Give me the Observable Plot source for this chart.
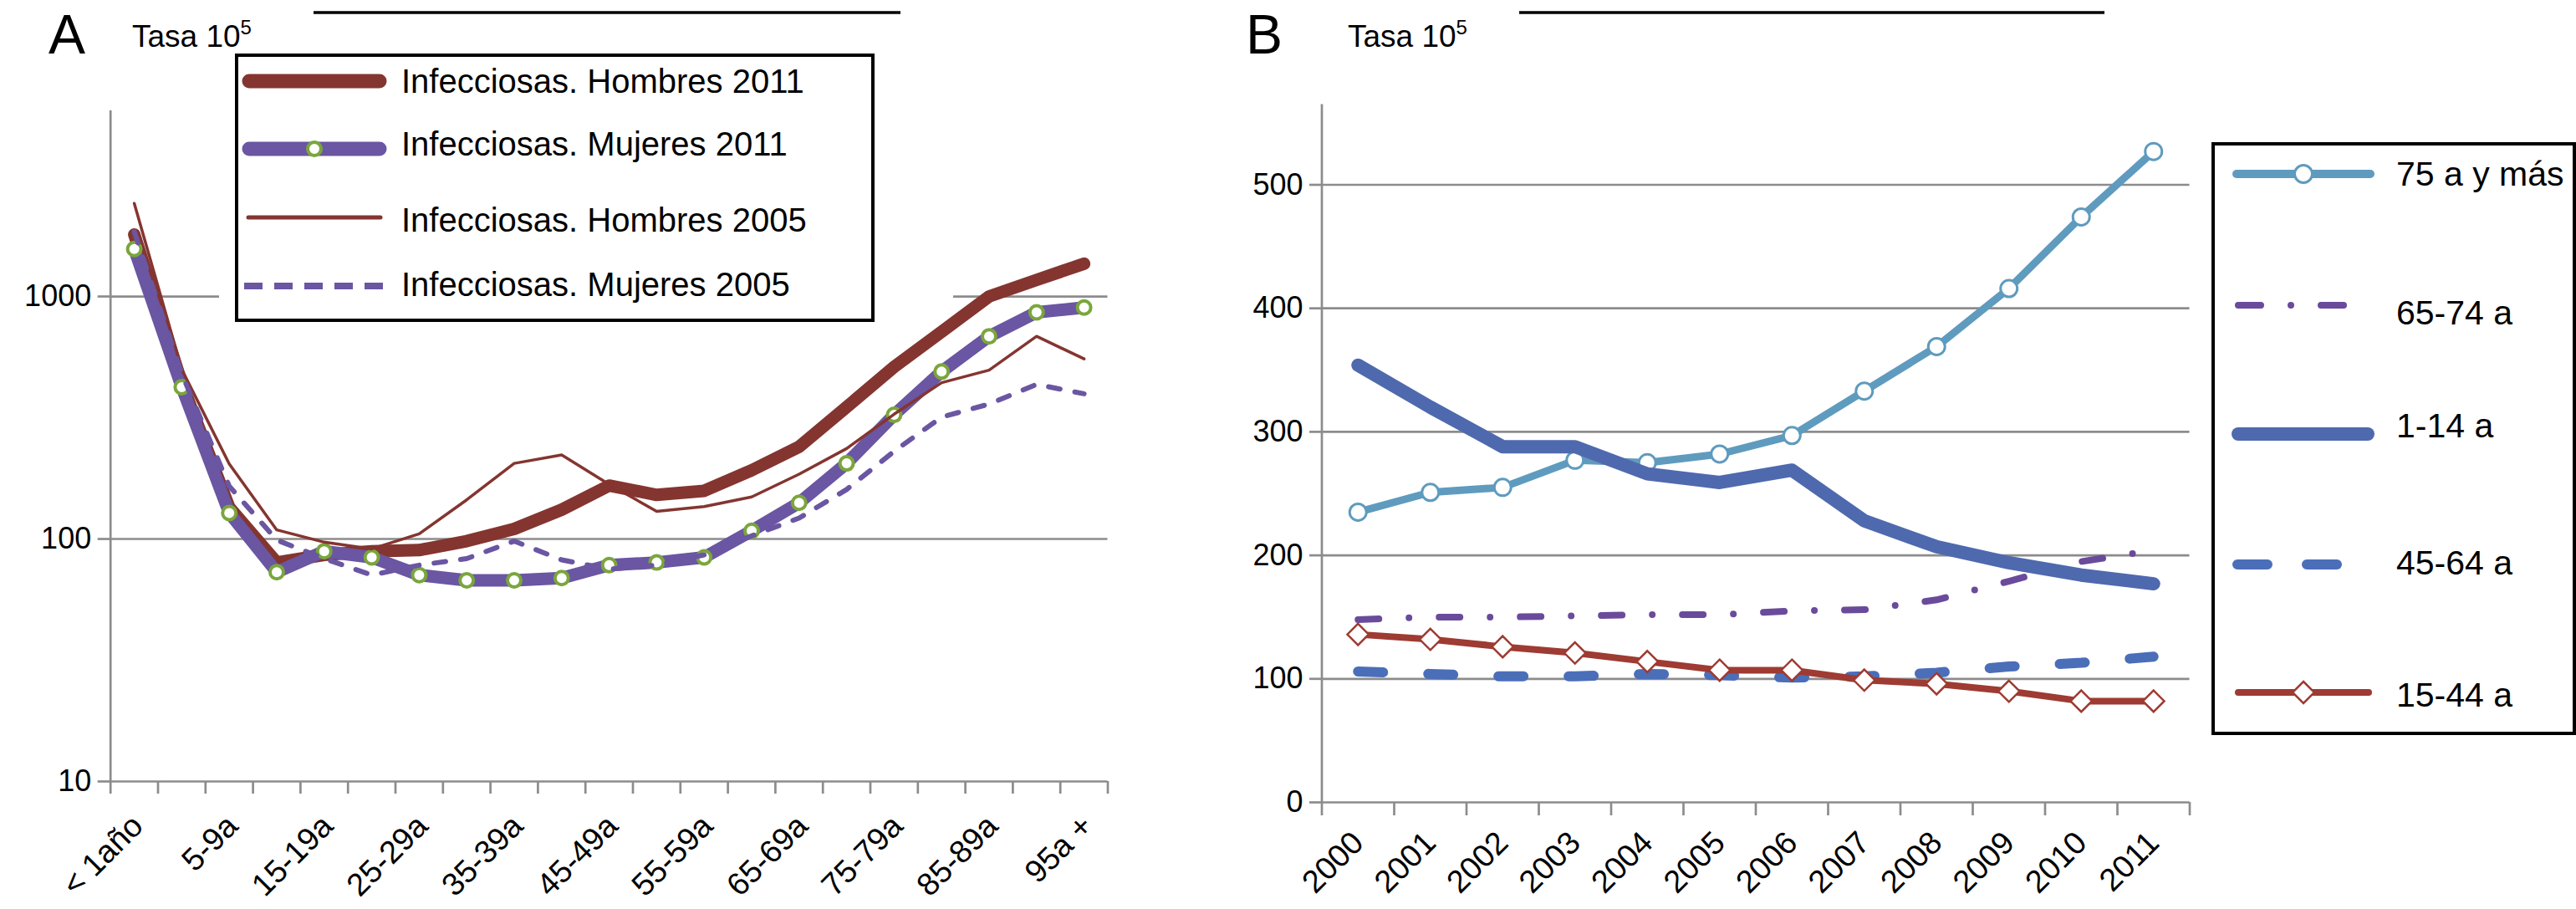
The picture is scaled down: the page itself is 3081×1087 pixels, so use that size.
<!DOCTYPE html>
<html><head><meta charset="utf-8">
<script src="https://cdn.jsdelivr.net/npm/d3@7"></script>
<script src="https://cdn.jsdelivr.net/npm/@observablehq/plot@0.6"></script>
<style>
html,body{margin:0;padding:0;background:#fff;}
#root{position:relative;width:3081px;height:1087px;overflow:hidden;background:#fff;}
.panel{position:absolute;top:0;}
#overlay{position:absolute;left:0;top:0;}
</style></head><body><div id="root"></div>
<script>
// ---------- Panel A data ----------
const ageGroups = ["< 1año","1-4a","5-9a","10-14a","15-19a","20-24a","25-29a","30-34a","35-39a","40-44a","45-49a","50-54a","55-59a","60-64a","65-69a","70-74a","75-79a","80-84a","85-89a","90-94a","95a +"];
const hombres2011 = [1800, 440, 135, 80, 86, 89, 90, 98, 110, 132, 166, 152, 158, 192, 240, 350, 512, 715, 1000, 1170, 1365];
const mujeres2011 = [1570, 423, 128, 73, 89, 84, 71, 67.5, 67.5, 69, 78, 80, 84, 108, 141, 205, 325, 490, 685, 860, 900];
const hombres2005 = [2420, 500, 204, 109, 97, 91, 105, 145, 205, 222, 168, 130, 136, 149, 185, 236, 327, 441, 497, 685, 553];
const mujeres2005 = [1850, 480, 165, 99, 83, 71, 78, 83, 98, 82, 75, 78, 86, 103, 122, 160, 230, 318, 360, 434, 397];
const seriesA = ["Infecciosas. Hombres 2011","Infecciosas. Mujeres 2011","Infecciosas. Hombres 2005","Infecciosas. Mujeres 2005"];
const yTicksA = [10, 100, 1000];
const yMaxA = 5830;

// ---------- Panel B data ----------
const years = ["2000","2001","2002","2003","2004","2005","2006","2007","2008","2009","2010","2011"];
const g75mas = [235, 251, 255, 277, 275, 282, 297, 333, 369, 416, 474, 527];
const g65_74 = [148, 150, 150, 151, 152, 152, 155, 156, 164, 179, 195, 204];
const g1_14  = [354, 320, 288, 288, 266, 259, 269, 228, 207, 194, 184, 177];
const g45_64 = [106, 104, 102, 102, 104, 103, 101, 102, 105, 110, 113, 118];
const g15_44 = [136, 132, 126, 121, 114, 107, 107, 99, 96, 90, 82, 82];
const seriesB = ["75 a y más","65-74 a","1-14 a","45-64 a","15-44 a"];
const yTicksB = [0, 100, 200, 300, 400, 500];
const yMaxB = 565;

// ---------- styles ----------
const FONT = '"Liberation Sans", Arial, Helvetica, sans-serif';
const GRAY = "#8c8c8c";
const RED = "#843530", PURPLE = "#6a56a2", GREEN = "#7aa63c";
const C75 = "#5f9bbe", C65 = "#6a4b9b", C1 = "#4f69ae", C45 = "#4b6eb9", C15 = "#9e3b32";

const tableA = ageGroups.map((g, i) => ({i, g, h11: hombres2011[i], m11: mujeres2011[i], h05: hombres2005[i], m05: mujeres2005[i]}));
const tableB = years.map((y, i) => ({i, y, a: g75mas[i], b: g65_74[i], c: g1_14[i], d: g45_64[i], e: g15_44[i]}));
const xc = d => d.i + 0.5;

const root = document.getElementById("root");

const plotA = Plot.plot({
  width: 1400, height: 1087,
  marginLeft: 131.7, marginRight: 75.5, marginTop: 132, marginBottom: 153,
  style: {fontFamily: FONT, fontSize: "38px", color: "#000", background: "transparent", overflow: "visible", maxWidth: "none"},
  x: {type: "linear", domain: [0, ageGroups.length]},
  y: {type: "log", domain: [10, yMaxA]},
  marks: [
    Plot.gridY([100, 1000], {stroke: GRAY, strokeOpacity: 1, strokeWidth: 2.7}),
    Plot.ruleY([10], {stroke: GRAY, strokeWidth: 2.7}),
    Plot.ruleX([0], {stroke: GRAY, strokeWidth: 2.7}),
    Plot.axisY(yTicksA, {tickSize: 15, tickPadding: 8, fontSize: 36, tickFormat: d => String(d), stroke: GRAY, strokeWidth: 2.7, fill: "#000", label: null}),
    Plot.axisX(d3.range(0, ageGroups.length + 1), {tickSize: 15, tickFormat: () => "", stroke: GRAY, strokeWidth: 2.7, label: null}),
    Plot.axisX(ageGroups.map((g, i) => i + 0.5).filter((v, i) => i % 2 === 0), {tickSize: 0, tickRotate: -45, tickPadding: 47, dx: 4, tickFormat: v => ageGroups[Math.floor(v)], fill: "#000", label: null}),
    Plot.line(tableA, {x: xc, y: "h11", stroke: RED, strokeWidth: 15}),
    Plot.line(tableA, {x: xc, y: "m11", stroke: PURPLE, strokeWidth: 15}),
    Plot.dot(tableA, {x: xc, y: "m11", r: 8, fill: "white", stroke: GREEN, strokeWidth: 4}),
    Plot.line(tableA, {x: xc, y: "h05", stroke: RED, strokeWidth: 3.5}),
    Plot.line(tableA, {x: xc, y: "m05", stroke: PURPLE, strokeWidth: 6, strokeDasharray: "14,18"})
  ]
});
const divA = document.createElement("div"); divA.className = "panel"; divA.style.left = "0px";
divA.appendChild(plotA); root.appendChild(divA);

const plotB = Plot.plot({
  width: 1681, height: 1087,
  marginLeft: 180.5, marginRight: 462.5, marginTop: 124.5, marginBottom: 128,
  style: {fontFamily: FONT, fontSize: "38px", color: "#000", background: "transparent", overflow: "visible", maxWidth: "none"},
  x: {type: "linear", domain: [0, years.length]},
  y: {type: "linear", domain: [0, yMaxB]},
  marks: [
    Plot.gridY(yTicksB.filter(v => v > 0), {stroke: GRAY, strokeOpacity: 1, strokeWidth: 2.7}),
    Plot.ruleY([0], {stroke: GRAY, strokeWidth: 2.7}),
    Plot.ruleX([0], {stroke: GRAY, strokeWidth: 2.7}),
    Plot.axisY(yTicksB, {tickSize: 14.5, tickPadding: 8, fontSize: 36, tickFormat: d => String(d), stroke: GRAY, strokeWidth: 2.7, fill: "#000", label: null}),
    Plot.axisX(d3.range(0, years.length + 1), {tickSize: 16, tickFormat: () => "", stroke: GRAY, strokeWidth: 2.7, label: null}),
    Plot.axisX(years.map((y, i) => i + 0.5), {tickSize: 0, tickRotate: -45, tickPadding: 42, tickFormat: v => years[Math.floor(v)], fill: "#000", label: null}),
    Plot.line(tableB, {x: xc, y: "a", stroke: C75, strokeWidth: 9}),
    Plot.dot(tableB, {x: xc, y: "a", r: 10, fill: "white", stroke: C75, strokeWidth: 3}),
    Plot.line(tableB, {x: xc, y: "b", stroke: C65, strokeWidth: 8, strokeDasharray: "25,36,0,36"}),
    Plot.line(tableB, {x: xc, y: "c", stroke: C1, strokeWidth: 16}),
    Plot.line(tableB, {x: xc, y: "d", stroke: C45, strokeWidth: 12, strokeDasharray: "30,54"}),
    Plot.line(tableB, {x: xc, y: "e", stroke: C15, strokeWidth: 8}),
    Plot.dot(tableB, {x: xc, y: "e", symbol: "diamond2", r: 11.5, fill: "white", stroke: C15, strokeWidth: 2.5})
  ]
});
const divB = document.createElement("div"); divB.className = "panel"; divB.style.left = "1400px";
divB.appendChild(plotB); root.appendChild(divB);

// ---------- overlay: panel headers and legends ----------
const ov = d3.create("svg").attr("id", "overlay").attr("width", 3081).attr("height", 1087)
  .attr("font-family", FONT).style("pointer-events", "none");

function header(letterX, letterY, tasaX, tasaY, lineX1, lineX2, letter) {
  ov.append("text").attr("x", letterX).attr("y", letterY).attr("font-size", 66).text(letter);
  const t = ov.append("text").attr("x", tasaX).attr("y", tasaY).attr("font-size", 37);
  t.append("tspan").text("Tasa 10");
  t.append("tspan").attr("font-size", 24).attr("dy", -15).text("5");
  ov.append("line").attr("x1", lineX1).attr("x2", lineX2).attr("y1", 15).attr("y2", 15).attr("stroke", "#000").attr("stroke-width", 3.5);
}
header(58, 64, 158, 56, 375, 1077, "A");
header(1490, 64, 1612, 56, 1817, 2517, "B");

// legend A
ov.append("rect").attr("x", 262).attr("y", 347).attr("width", 24).attr("height", 14).attr("fill", "#fff");
ov.append("rect").attr("x", 1040).attr("y", 347).attr("width", 100).attr("height", 14).attr("fill", "#fff");
ov.append("rect").attr("x", 283).attr("y", 66).attr("width", 761).attr("height", 317).attr("fill", "#fff").attr("stroke", "#000").attr("stroke-width", 4);
const legA = [
  {label: seriesA[0], y: 97, ty: 97, stroke: RED, w: 17, dash: null, marker: false, x1: 298, x2: 454},
  {label: seriesA[1], y: 178, ty: 172, stroke: PURPLE, w: 17, dash: null, marker: true, x1: 298, x2: 454},
  {label: seriesA[2], y: 260, ty: 263, stroke: RED, w: 5, dash: null, marker: false, x1: 297, x2: 455},
  {label: seriesA[3], y: 342, ty: 340, stroke: PURPLE, w: 8, dash: "22,14", marker: false, x1: 292, x2: 460, cap: "butt"}
];
legA.forEach(d => {
  const l = ov.append("line").attr("x1", d.x1).attr("x2", d.x2).attr("y1", d.y).attr("y2", d.y)
    .attr("stroke", d.stroke).attr("stroke-width", d.w).attr("stroke-linecap", d.cap || "round");
  if (d.dash) l.attr("stroke-dasharray", d.dash);
  if (d.marker) ov.append("circle").attr("cx", 376).attr("cy", d.y).attr("r", 8).attr("fill", "#fff").attr("stroke", GREEN).attr("stroke-width", 4);
  ov.append("text").attr("x", 480).attr("y", d.ty).attr("dy", "0.36em").attr("font-size", 40).text(d.label);
});

// legend B
ov.append("rect").attr("x", 2647).attr("y", 172).attr("width", 432).attr("height", 705).attr("fill", "#fff").attr("stroke", "#000").attr("stroke-width", 4);
const legB = [
  {label: seriesB[0], y: 208, ty: 207, stroke: C75, w: 10, x1: 2675, x2: 2835, dash: null, marker: "circle"},
  {label: seriesB[1], y: 365, ty: 373, stroke: C65, w: 8, x1: 2677, x2: 2803, dash: "27,36,0,36"},
  {label: seriesB[2], y: 519, ty: 508, stroke: C1, w: 16, x1: 2677, x2: 2832, dash: null},
  {label: seriesB[3], y: 675, ty: 672, stroke: C45, w: 12, x1: 2676, x2: 2796, dash: "36,47"},
  {label: seriesB[4], y: 828, ty: 830, stroke: C15, w: 8, x1: 2677, x2: 2833, dash: null, marker: "diamond"}
];
legB.forEach(d => {
  const l = ov.append("line").attr("x1", d.x1).attr("x2", d.x2).attr("y1", d.y).attr("y2", d.y)
    .attr("stroke", d.stroke).attr("stroke-width", d.w).attr("stroke-linecap", "round");
  if (d.dash) l.attr("stroke-dasharray", d.dash);
  if (d.marker === "circle") ov.append("circle").attr("cx", 2755).attr("cy", d.y).attr("r", 10.5).attr("fill", "#fff").attr("stroke", d.stroke).attr("stroke-width", 3);
  if (d.marker === "diamond") ov.append("path").attr("d", `M2755,${d.y - 13}L2768,${d.y}L2755,${d.y + 13}L2742,${d.y}Z`).attr("fill", "#fff").attr("stroke", d.stroke).attr("stroke-width", 2.5);
  ov.append("text").attr("x", 2866).attr("y", d.ty).attr("dy", "0.36em").attr("font-size", 41).text(d.label);
});

root.appendChild(ov.node());
</script></body></html>
